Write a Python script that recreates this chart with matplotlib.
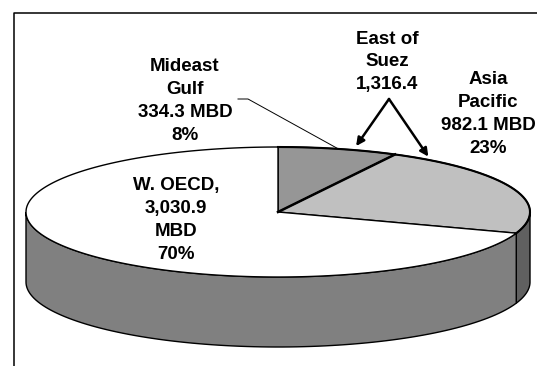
import numpy as np
import matplotlib.pyplot as plt
from matplotlib.patches import Polygon

# crude oil flows, MBD
regions = ['Mideast\nGulf', 'Asia\nPacific', 'W. OECD,']
mbd = [334.3, 982.1, 3030.9]
top_colors = ['#969696', '#c0c0c0', '#ffffff']
side_colors = ['#707070', '#606060', '#808080']
label_pos = [(185, 101), (488, 114), (176, 220)]

total = sum(mbd)
pct = [round(100 * v / total) for v in mbd]
labels = [regions[0] + '\n%.1f MBD\n%d%%' % (mbd[0], pct[0]),
          regions[1] + '\n%.1f MBD\n%d%%' % (mbd[1], pct[1]),
          regions[2] + '\n{:,.1f}\nMBD\n{}%'.format(mbd[2], pct[2])]
suez = 'East of\nSuez\n{:,.1f}'.format(mbd[0] + mbd[1])

# pseudo 3d pie geometry (pixel coords)
cx, cy = 278, 212
rx, ry = 252, 65
depth = 70


def pt(theta, f=1.0):
    t = np.radians(theta)
    return cx + f * rx * np.cos(t), cy - f * ry * np.sin(t)


fig = plt.figure(figsize=(5.37, 3.66), dpi=100)
ax = fig.add_axes([0, 0, 1, 1])
ax.set_xlim(0, 537)
ax.set_ylim(366, 0)
ax.axis('off')

# slice angles, clockwise from 12 o'clock
starts, ends = [], []
a = 90.0
for v in mbd:
    starts.append(a)
    a -= 360.0 * v / total
    ends.append(a)

# sides (front half only)
for i in range(len(mbd)):
    lo, hi = max(ends[i], -180), min(starts[i], 0)
    if hi <= lo:
        continue
    th = np.linspace(lo, hi, 100)
    x, y = pt(th)
    xs = np.concatenate([x, x[::-1]])
    ys = np.concatenate([y, y[::-1] + depth])
    ax.add_patch(Polygon(np.column_stack([xs, ys]), closed=True,
                         facecolor=side_colors[i], edgecolor='black', lw=1.0))

# tops
for i in range(len(mbd)):
    th = np.linspace(starts[i], ends[i], 200)
    x, y = pt(th)
    xs = np.concatenate([[cx], x])
    ys = np.concatenate([[cy], y])
    ax.add_patch(Polygon(np.column_stack([xs, ys]), closed=True,
                         facecolor=top_colors[i], edgecolor='black', lw=1.0))

# heavier rim and divider on the east of suez part
th = np.linspace(starts[0], ends[1], 200)
x, y = pt(th)
ax.plot(x, y, color='black', lw=1.5)
bx, by = pt(ends[0])
ax.plot([cx, bx], [cy, by], color='black', lw=1.8)

# frame
ax.plot([14, 14, 545], [370, 12.5, 12.5], color='black', lw=1.1)

# text
font = dict(family='Liberation Sans', weight='bold', size=13.5,
            ha='center', va='center', linespacing=1.45)
for lab, (tx, ty) in zip(labels, label_pos):
    ax.text(tx, ty, lab, **font)
ax.text(387, 62, suez, **font)

# leader line for mideast gulf
mx, my = pt((starts[0] + ends[0]) / 2)
ax.plot([238, 248, mx], [99, 99, my], color='black', lw=0.7)

# arrows from east of suez
for ang, f in [(73, 1.06), (55, 1.04)]:
    ax.annotate('', xy=pt(ang, f), xytext=(389, 99),
                arrowprops=dict(arrowstyle='-|>', color='black', lw=1.8,
                                mutation_scale=12, shrinkA=0, shrinkB=0))

fig.savefig('out.png', dpi=100)
